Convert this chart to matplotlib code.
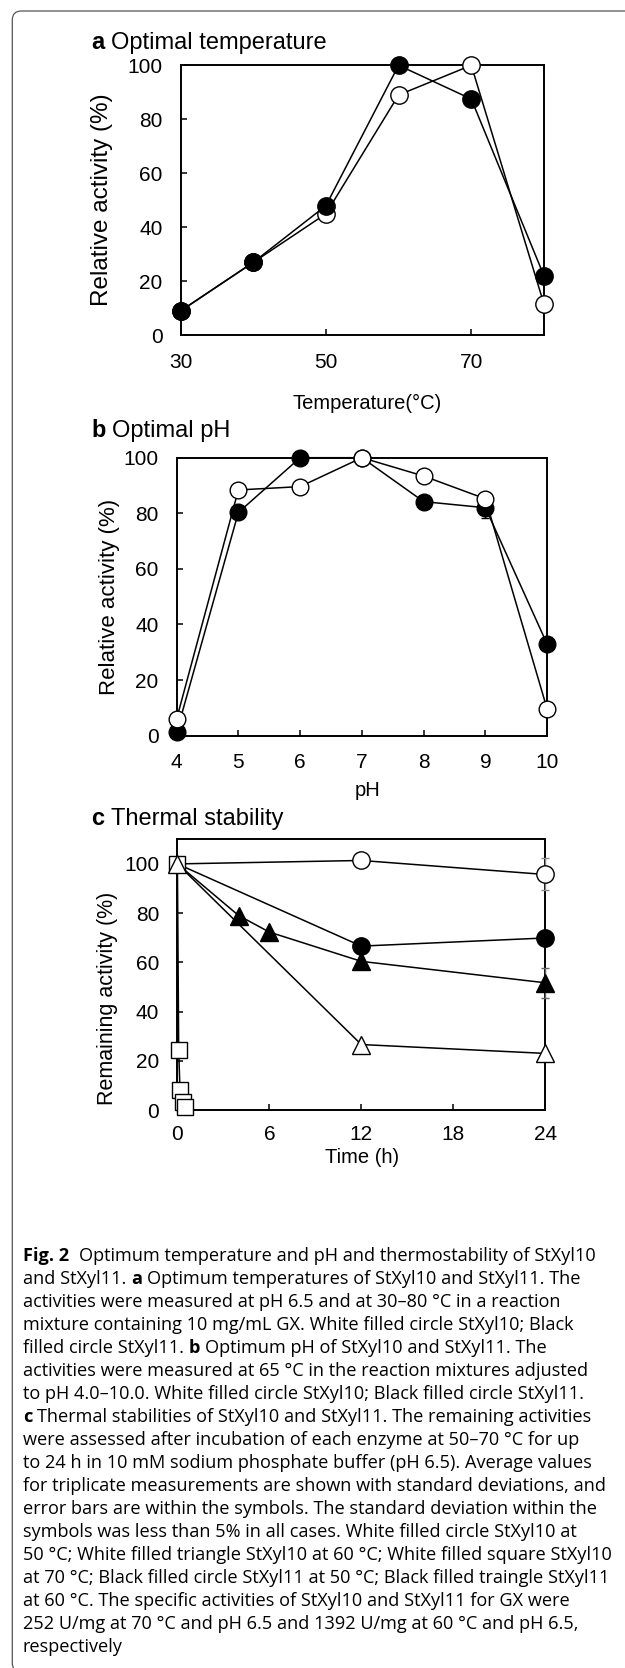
import matplotlib
matplotlib.use('Agg')
import matplotlib.pyplot as plt
from matplotlib import font_manager as fm
from matplotlib.patches import FancyBboxPatch
from matplotlib.transforms import IdentityTransform

# ---------------- data ----------------
temp = [30, 40, 50, 60, 70, 80]
temp_xyl10 = [9, 27, 45, 89, 100, 11.5]
temp_xyl11 = [9, 27, 48, 100, 87.5, 22]
temp_ticks = [30, 50, 70]

ph = [4, 5, 6, 7, 8, 9, 10]
ph_xyl10 = [6, 88.4, 89.6, 100, 93.4, 85.2, 9.5]
ph_xyl11 = [1.2, 80.3, 100, 100, 84.2, 82, 32.9]
ph_xyl11_err = [0, 0, 0, 0, 0, 3.8, 0]

t_c10_50 = [0, 12, 24]
c10_50 = [100, 101.4, 95.7]
c10_50_err = [0, 0, 6.5]
t_c11_50 = [0, 12, 24]
c11_50 = [100, 66.6, 69.9]
t_c11_60 = [0, 4, 6, 12, 24]
c11_60 = [100, 79, 72.3, 60.4, 51.7]
c11_60_err = [0, 0, 0, 0, 6.0]
t_c10_60 = [0, 12, 24]
c10_60 = [100, 26.6, 23.0]
t_c10_70 = [0, 0.083, 0.167, 0.333, 0.5]
c10_70 = [100, 24.5, 8.2, 3.2, 1.4]
time_ticks = [0, 6, 12, 18, 24]
pct_ticks = [0, 20, 40, 60, 80, 100]

caption_lines = [
    [("Fig. 2", True, 0), ("Optimum temperature and pH and thermostability of StXyl10", False, 2)],
    [("and StXyl11.", False, 0), ("a", True, 1), ("Optimum temperatures of StXyl10 and StXyl11. The", False, 1)],
    [("activities were measured at pH 6.5 and at 30\u201380 \u00b0C in a reaction", False, 0)],
    [("mixture containing 10 mg/mL GX. White filled circle StXyl10; Black", False, 0)],
    [("filled circle StXyl11.", False, 0), ("b", True, 1), ("Optimum pH of StXyl10 and StXyl11. The", False, 1)],
    [("activities were measured at 65 \u00b0C in the reaction mixtures adjusted", False, 0)],
    [("to pH 4.0\u201310.0. White filled circle StXyl10; Black filled circle StXyl11.", False, 0)],
    [("c", True, 0), ("Thermal stabilities of StXyl10 and StXyl11. The remaining activities", False, 1)],
    [("were assessed after incubation of each enzyme at 50\u201370 \u00b0C for up", False, 0)],
    [("to 24 h in 10 mM sodium phosphate buffer (pH 6.5). Average values", False, 0)],
    [("for triplicate measurements are shown with standard deviations, and", False, 0)],
    [("error bars are within the symbols. The standard deviation within the", False, 0)],
    [("symbols was less than 5% in all cases. White filled circle StXyl10 at", False, 0)],
    [("50 \u00b0C; White filled triangle StXyl10 at 60 \u00b0C; White filled square StXyl10", False, 0)],
    [("at 70 \u00b0C; Black filled circle StXyl11 at 50 \u00b0C; Black filled traingle StXyl11", False, 0)],
    [("at 60 \u00b0C. The specific activities of StXyl10 and StXyl11 for GX were", False, 0)],
    [("252 U/mg at 70 \u00b0C and pH 6.5 and 1392 U/mg at 60 \u00b0C and pH 6.5,", False, 0)],
    [("respectively", False, 0)],
]

# ---------------- setup ----------------
W, H = 625, 1668
DPI = 100


def has_font(name):
    try:
        fm.findfont(fm.FontProperties(family=name), fallback_to_default=False)
        return True
    except Exception:
        return False


PLOT_FONT = 'Liberation Sans' if has_font('Liberation Sans') else 'DejaVu Sans'
CAP_FONT = next((f for f in ['Open Sans', 'Noto Sans', 'Lato', 'Liberation Sans'] if has_font(f)), 'DejaVu Sans')
plt.rcParams['font.family'] = [PLOT_FONT, 'DejaVu Sans']

TICK_FS = 15
TITLE_FS = 17
XLAB_FS = 14.5

fig = plt.figure(figsize=(W / DPI, H / DPI), dpi=DPI)
renderer = fig.canvas.get_renderer()


def axes_px(l, r, t, b):
    return fig.add_axes([l / W, 1 - b / H, (r - l) / W, (b - t) / H])


def px_text(x, y, s, **kw):
    return fig.text(x, H - y, s, transform=IdentityTransform(), **kw)


def text_w(s, **kw):
    t = px_text(0, 0, s, **kw)
    w = t.get_window_extent(renderer).width
    t.remove()
    return w


def draw_runs(x, y, runs, size, family, measure_only=False):
    sp = text_w('x x', fontsize=size, family=family) - text_w('xx', fontsize=size, family=family)
    cx = x
    for s, bold, gap in runs:
        cx += gap * sp
        kw = dict(fontsize=size, family=family, fontweight='bold' if bold else 'normal')
        if measure_only:
            cx += text_w(s, **kw)
        else:
            t = px_text(cx, y, s, va='baseline', ha='left', **kw)
            cx += t.get_window_extent(renderer).width
    return cx - x


# outer rounded frame
frame = FancyBboxPatch((12.3, -4), 660, H - 11 + 4, boxstyle="round,pad=0,rounding_size=9",
                       transform=IdentityTransform(), fill=False, edgecolor='#555555', linewidth=0.9)
fig.add_artist(frame)


def style(ax, xpad=12.5):
    for sp in ax.spines.values():
        sp.set_linewidth(1.4)
    ax.tick_params(direction='in', length=4, width=1.1, labelsize=TICK_FS)
    ax.tick_params(axis='x', pad=xpad)
    ax.tick_params(axis='y', pad=13)


common = dict(color='black', mec='black', mew=1.0, lw=1.1, clip_on=False)

# ---------------- panel a ----------------
ax = axes_px(180.5, 544, 65.3, 335.3)
ax.plot(temp, temp_xyl10, '-o', mfc='white', ms=12.5, zorder=4, **common)
ax.plot(temp, temp_xyl11, '-o', mfc='black', ms=12.5, zorder=5, **common)
ax.set_xlim(30, 80)
ax.set_ylim(0, 100)
ax.set_xticks(temp_ticks)
ax.set_yticks(pct_ticks)
style(ax)
draw_runs(91, 49, [("a", True, 0), ("Optimal temperature", False, 1)], TITLE_FS, PLOT_FONT)
px_text(367, 409, "Temperature(\u00b0C)", fontsize=XLAB_FS, ha='center', va='baseline')
px_text(102, 200, "Relative activity (%)", fontsize=17.5, rotation=90, ha='center', va='center')

# ---------------- panel b ----------------
ax = axes_px(176.6, 547.2, 457.7, 735.7)
ax.errorbar(ph, ph_xyl11, yerr=ph_xyl11_err, fmt='-o', mfc='black', ms=12, ecolor='black',
            elinewidth=1.0, capsize=3, zorder=4, **common)
ax.plot(ph, ph_xyl10, '-o', mfc='white', ms=12, zorder=5, **common)
ax.set_xlim(4, 10)
ax.set_ylim(0, 100)
ax.set_xticks(ph)
ax.set_yticks(pct_ticks)
style(ax)
draw_runs(91, 437, [("b", True, 0), ("Optimal pH", False, 1)], TITLE_FS, PLOT_FONT)
px_text(368, 796, "pH", fontsize=XLAB_FS, ha='center', va='baseline')
px_text(109, 597, "Relative activity (%)", fontsize=16, rotation=90, ha='center', va='center')

# ---------------- panel c ----------------
ax = axes_px(177.4, 545.2, 839.3, 1110)
ax.errorbar(t_c10_50, c10_50, yerr=c10_50_err, fmt='-o', mfc='white', ms=12.5, ecolor='#888888',
            elinewidth=1.0, capsize=3, markevery=[1, 2], zorder=4, **common)
ax.plot(t_c11_50, c11_50, '-o', mfc='black', ms=12.5, markevery=[1, 2], zorder=4, **common)
ax.errorbar(t_c11_60, c11_60, yerr=c11_60_err, fmt='-^', mfc='black', ms=13, ecolor='#666666',
            elinewidth=1.0, capsize=3, markevery=[1, 2, 3, 4], zorder=5, **common)
ax.plot(t_c10_70, c10_70, '-s', mfc='white', ms=11.5, zorder=6, **common)
ax.plot(t_c10_60, c10_60, '-^', mfc='white', ms=13, zorder=7, **common)
ax.set_xlim(0, 24)
ax.set_ylim(0, 110)
ax.set_xticks(time_ticks)
ax.set_yticks(pct_ticks)
style(ax, xpad=11)
draw_runs(91, 825, [("c", True, 0), ("Thermal stability", False, 1)], TITLE_FS, PLOT_FONT)
px_text(362, 1163, "Time (h)", fontsize=XLAB_FS, ha='center', va='baseline')
px_text(108, 998, "Remaining activity (%)", fontsize=15.5, rotation=90, ha='center', va='center')

# ---------------- caption ----------------
widths = [draw_runs(23, 0, runs, 10, CAP_FONT, measure_only=True) for runs in caption_lines]
cap_fs = 10 * 590.0 / max(widths)
base0, step = 1261, 23.0
for i, runs in enumerate(caption_lines):
    draw_runs(23, base0 + i * step, runs, cap_fs, CAP_FONT)

fig.savefig('out.png', dpi=DPI)
